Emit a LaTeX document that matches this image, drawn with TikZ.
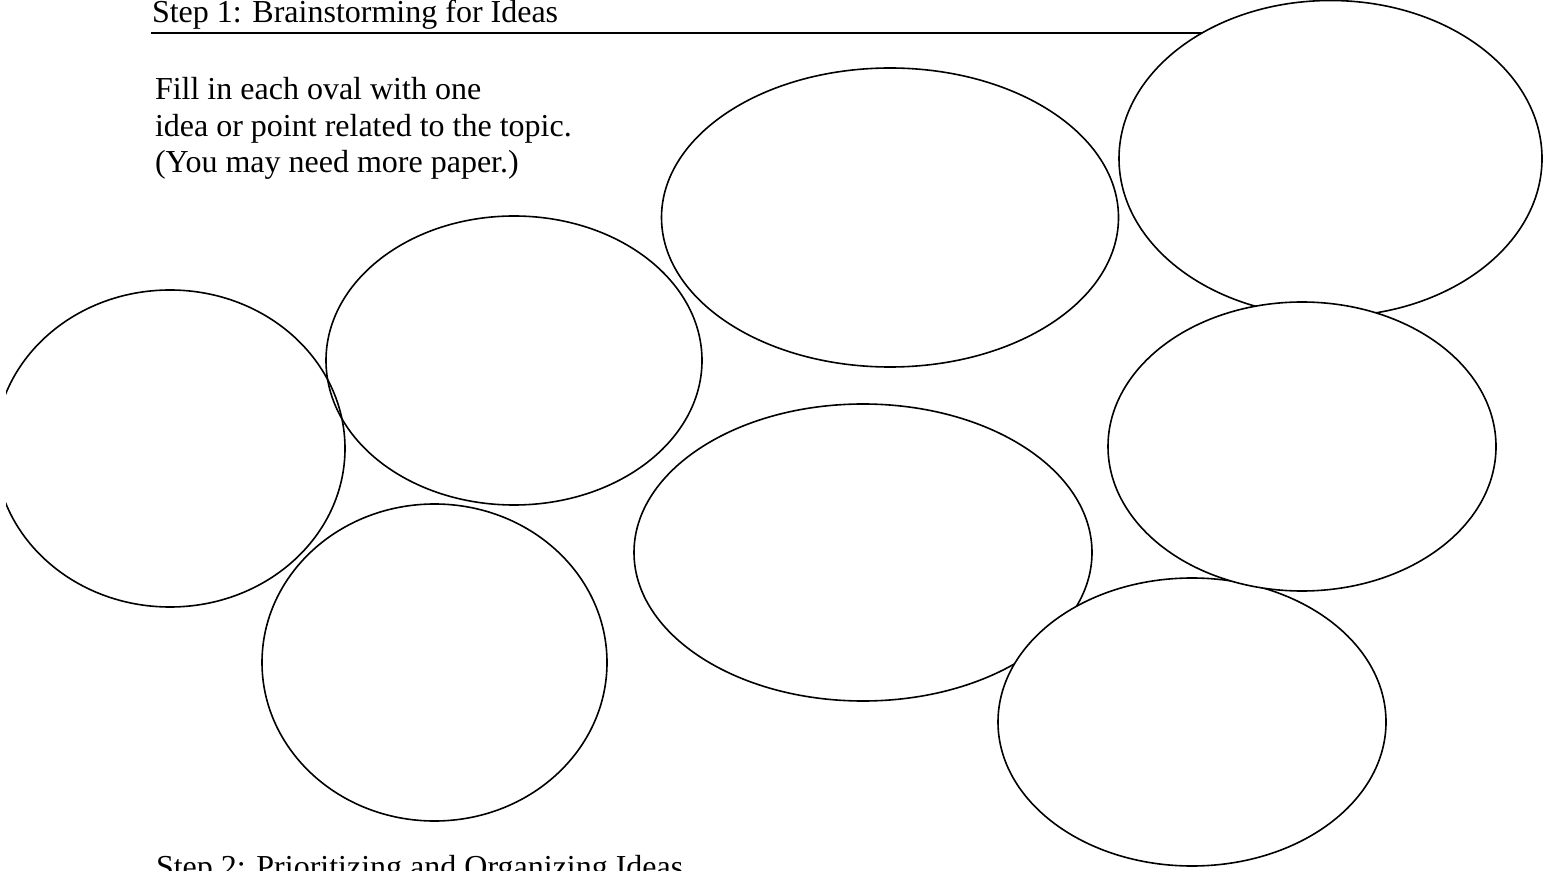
\documentclass[tikz,border=0pt]{standalone}
\usepackage{fontspec}
\setmainfont{Liberation Serif}
\usetikzlibrary{shapes.geometric}
\tikzset{
  oval/.style={ellipse, draw=black, fill=white, line width=0.8pt, inner sep=0pt, outer sep=0pt},
  openoval/.style={oval, fill=none},
  osize/.style 2 args={minimum width=#1pt, minimum height=#2pt},
  lbl/.style={anchor=base west, inner sep=0pt, outer sep=0pt, font=\fontsize{16}{19}\selectfont},
  rulestyle/.style={line width=1pt}
}
\begin{document}
\begin{tikzpicture}[x=0.5pt,y=-0.5pt]
\useasboundingbox (0,0) rectangle (1553,871);
\clip (6,0) rectangle (1553,871);
% heading and rule
\node[lbl] (s1) at (152,23) {Step 1: Brainstorming for Ideas};
\coordinate (rs) at (151,33.5);
\coordinate (re) at (1300,33.5);
\draw[rulestyle] (rs) -- (re);
% instructions
\node[lbl] (i1) at (155,100) {Fill in each oval with one};
\node[lbl] (i2) at (155,136.5) {idea or point related to the topic.};
\node[lbl] (i3) at (155,173) {(You may need more paper.)};
% ovals
\node[openoval, osize={175}{158.5}] (o4) at (170,448.5) {};
\node[openoval, osize={188}{144.5}] (o3) at (514,360.5) {};
\node[oval, osize={172.5}{158.5}] (o5) at (434.5,662.5) {};
\node[oval, osize={228.5}{149.5}] (o2) at (890,217.5) {};
\node[oval, osize={229}{148.5}] (o6) at (863,552.5) {};
\node[oval, osize={211.5}{158}] (o1) at (1330.5,158.5) {};
\node[oval, osize={194}{144}] (o8) at (1192,722) {};
\node[oval, osize={194}{144.5}] (o7) at (1302,446.5) {};
% footer
\node[lbl] (s2) at (156,877.5) {Step 2: Prioritizing and Organizing Ideas};
\end{tikzpicture}
\end{document}
